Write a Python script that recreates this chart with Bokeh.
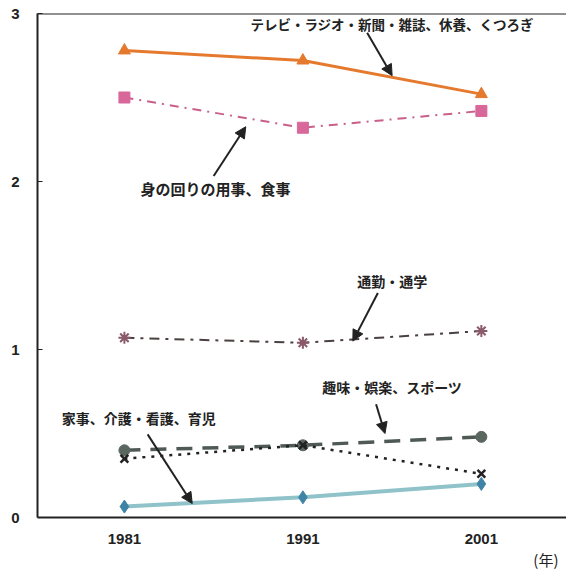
from bokeh.plotting import figure
from bokeh.models import Range1d, FixedTicker, Label, Arrow, NormalHead, Span, Title
from bokeh.embed import file_html
from bokeh.resources import INLINE

years = [1981, 1991, 2001]
tv_rest = [2.78, 2.72, 2.52]
personal = [2.50, 2.32, 2.42]
commute = [1.07, 1.04, 1.11]
hobby = [0.40, 0.43, 0.48]
dotted = [0.35, 0.43, 0.26]
housework = [0.065, 0.12, 0.20]
y_ticks = [0, 1, 2, 3]

JP = "Noto Sans CJK JP"

p = figure(width=566, height=569, output_backend="svg", toolbar_location=None,
           x_range=Range1d(1976.13, 2005.77), y_range=Range1d(0, 3),
           min_border_left=37, min_border_top=13, min_border_right=0, min_border_bottom=0)
p.outline_line_color = None
p.xgrid.visible = False
p.ygrid.visible = False
p.background_fill_color = "white"
p.border_fill_color = "white"

p.xaxis.ticker = FixedTicker(ticks=years)
p.yaxis.ticker = FixedTicker(ticks=y_ticks)
for ax in (p.xaxis, p.yaxis):
    ax.axis_line_color = "#222222"
    ax.axis_line_width = 2
    ax.major_label_text_font = "Liberation Sans"
    ax.major_label_text_font_style = "bold"
    ax.major_label_text_font_size = "15px"
    ax.major_label_text_color = "#222222"
    ax.minor_tick_line_color = None
p.xaxis.major_tick_line_color = None
p.xaxis.major_label_standoff = 10
p.yaxis.major_tick_in = 5
p.yaxis.major_tick_out = 0
p.yaxis.major_tick_line_color = "#222222"
p.yaxis.major_label_standoff = 18

p.add_layout(Span(location=3, dimension="width", line_color="#222222", line_width=2))

p.add_layout(Title(text="(年)", align="right", offset=8, text_font=JP,
                   text_font_size="15px", text_font_style="normal", text_color="#222222",
                   standoff=0), "below")

# series
p.line(years, tv_rest, line_color="#E57A2E", line_width=3)
p.scatter(years, tv_rest, marker="triangle", size=12, fill_color="#E57A2E", line_color="#E57A2E")

p.line(years, personal, line_color="#C9608A", line_width=2, line_dash="9 6 2 6")
p.scatter(years, personal, marker="square", size=11, fill_color="#D8679A", line_color="#D8679A")

p.line(years, commute, line_color="#4A4040", line_width=2, line_dash="10 6 3 6")
p.scatter(years, commute, marker="asterisk", size=12, line_color="#8A5A6A", line_width=2)

p.line(years, hobby, line_color="#4F5A55", line_width=3.5, line_dash="16 10")
p.scatter(years, hobby, marker="circle", size=11, fill_color="#5A6660", line_color="#5A6660")

p.line(years, dotted, line_color="#222222", line_width=2.5, line_dash="3 6")
p.scatter(years, dotted, marker="x", size=11, line_color="#222222", line_width=2.5)

p.line(years, housework, line_color="#8FC3C9", line_width=4)
p.scatter(years, housework, marker="diamond", size=13, fill_color="#3F84A6", line_color="#3F84A6")

# labels
labels = [
    ("テレビ・ラジオ・新聞・雑誌、休養、くつろぎ", 1996.0, 2.94, "13.5px"),
    ("身の回りの用事、食事", 1986.1, 1.956, "15px"),
    ("通勤・通学", 1996.0, 1.407, "14px"),
    ("趣味・娯楽、スポーツ", 1996.0, 0.775, "14px"),
    ("家事、介護・看護、育児", 1981.8, 0.59, "14px"),
]
for txt, lx, ly, fs in labels:
    p.add_layout(Label(x=lx, y=ly, text=txt, text_align="center", text_baseline="middle",
                       text_font=JP, text_font_size=fs, text_font_style="bold",
                       text_color="#222222"))

arrows = [
    (1994.6, 2.886, 1996.0, 2.63),
    (1986.0, 2.033, 1987.8, 2.326),
    (1995.2, 1.336, 1993.8, 1.05),
    (1995.1, 0.674, 1995.6, 0.50),
    (1982.3, 0.495, 1984.8, 0.083),
]
for xs, ys, xe, ye in arrows:
    p.add_layout(Arrow(x_start=xs, y_start=ys, x_end=xe, y_end=ye, line_width=2, line_color="#222222",
                       end=NormalHead(size=11, fill_color="#222222", line_color="#222222")))

open("out.html", "w").write(file_html(p, INLINE))
